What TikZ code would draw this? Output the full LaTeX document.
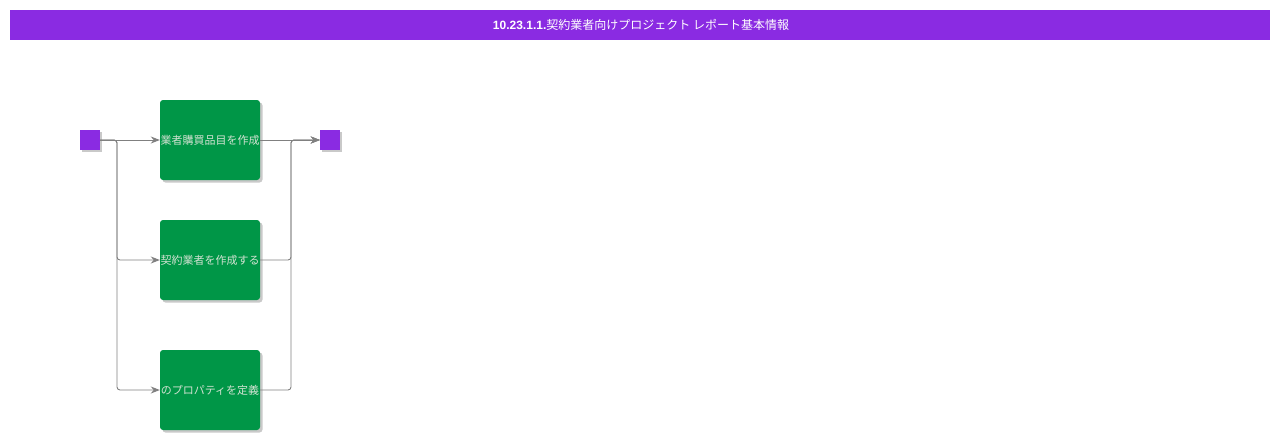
\documentclass[tikz,border=0pt]{standalone}
\usepackage{fontspec}
\setmainfont{Liberation Sans}
\newfontfamily\cjk{Noto Sans CJK JP}
\usetikzlibrary{arrows.meta,shadows}
\definecolor{violetbar}{HTML}{8A2BE2}
\definecolor{boxgreen}{HTML}{009647}
\definecolor{boxtext}{HTML}{D2E2D2}
\definecolor{wire}{HTML}{808080}
\tikzset{
  pt/.style={x=1pt,y=-1pt},
  termsq/.style={draw=none,fill=violetbar,minimum width=20pt,minimum height=20pt,inner sep=0pt,
    drop shadow={shadow xshift=2pt,shadow yshift=-2pt,fill=black!35,opacity=0.6}},
  taskbox/.style={draw=none,fill=boxgreen,rounded corners=3pt,minimum width=100pt,minimum height=80pt,inner sep=0pt,
    text=boxtext,font=\cjk\fontsize{11}{12}\selectfont,
    drop shadow={shadow xshift=2.5pt,shadow yshift=-2.5pt,fill=black!35,opacity=0.6}},
  wireline/.style={draw=wire,line width=0.9pt,rounded corners=3pt},
  wirearrow/.style={wireline,-{Stealth[length=9pt,width=7pt]}},
}
\begin{document}
\begin{tikzpicture}[pt]
\useasboundingbox (0,0) rectangle (1280,440);
\fill[white] (0,0) rectangle (1280,440);
\node[fill=violetbar,minimum width=1260pt,minimum height=30pt,inner sep=0pt,anchor=north west] (title) at (10,10) {};
\node[text=white,font=\fontsize{12}{14}\selectfont] (titletext) at (641,25) {\textbf{10.23.1.1.}{\cjk 契約業者向けプロジェクト レポート基本情報}};
\node[termsq] (start) at (90,140) {};
\node[termsq] (end) at (330,140) {};
\node[taskbox] (t1) at (210,140) {業者購買品目を作成};
\node[taskbox] (t2) at (210,260) {契約業者を作成する};
\node[taskbox] (t3) at (210,390) {のプロパティを定義};
\coordinate (sj) at (117,140);
\coordinate (ej) at (291,140);
\draw[wirearrow] (start.east) -- (t1.west);
\draw[wirearrow] (start.east) -- (sj) |- (t2.west);
\draw[wirearrow] (start.east) -- (sj) |- (t3.west);
\draw[wirearrow] (t1.east) -- (end.west);
\draw[wirearrow] (t2.east) -| (ej) -- (end.west);
\draw[wirearrow] (t3.east) -| (ej) -- (end.west);
\end{tikzpicture}
\end{document}
